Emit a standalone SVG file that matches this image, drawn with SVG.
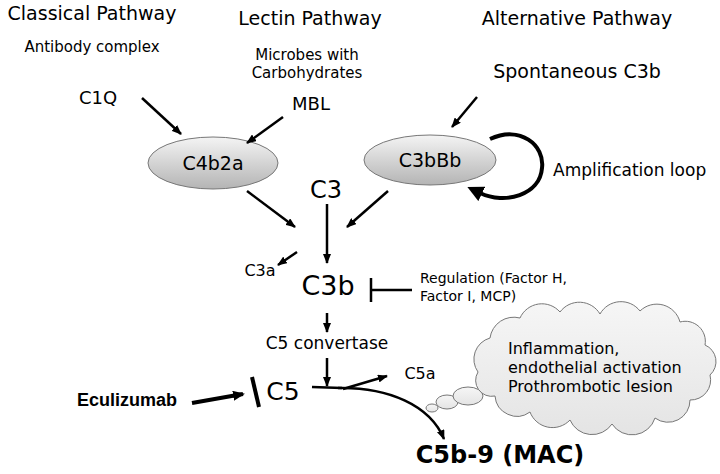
<svg xmlns="http://www.w3.org/2000/svg" width="720" height="474" viewBox="0 0 720 474">
<defs>
<linearGradient id="ell" x1="0" y1="0" x2="0" y2="1">
<stop offset="0" stop-color="#f4f4f4"/>
<stop offset="1" stop-color="#b4b4b4"/>
</linearGradient>
<linearGradient id="cloudg" x1="0" y1="0" x2="0" y2="1">
<stop offset="0" stop-color="#f6f6f6"/>
<stop offset="1" stop-color="#e4e4e4"/>
</linearGradient>
<marker id="ah" viewBox="0 0 10 8" refX="9" refY="4" markerWidth="10" markerHeight="8" markerUnits="userSpaceOnUse" orient="auto">
<path d="M0,0 L10,4 L0,8 Z" fill="#000"/>
</marker>
<marker id="ahBig" viewBox="0 0 16 16" refX="2" refY="8" markerWidth="16" markerHeight="16" markerUnits="userSpaceOnUse" orient="auto">
<path d="M0,0 L16,8 L0,16 Z" fill="#000"/>
</marker>
<marker id="ahThick" viewBox="0 0 12 10" refX="10" refY="5" markerWidth="12" markerHeight="10" markerUnits="userSpaceOnUse" orient="auto">
<path d="M0,0 L12,5 L0,10 Z" fill="#000"/>
</marker>
</defs>
<style>
.t{font-family:"Comic Sans MS","DejaVu Sans",sans-serif;fill:#000}
.m{text-anchor:middle}
.ln{stroke:#000;stroke-width:2.5;fill:none}
.arr{stroke:#000;stroke-width:2.5;fill:none;marker-end:url(#ah)}
.node{fill:url(#ell);stroke:#777;stroke-width:1}
.cl{fill:url(#cloudg);stroke:#777;stroke-width:1}
</style>

<g id="titles">
<text class="t m" x="92" y="20" font-size="19">Classical Pathway</text>
<text class="t m" x="310" y="25" font-size="19">Lectin Pathway</text>
<text class="t m" x="577" y="25" font-size="19">Alternative Pathway</text>
</g>

<g id="antibody"><text class="t m" x="92" y="52" font-size="15">Antibody complex</text></g>
<g id="microbes"><text class="t m" x="307" y="60" font-size="15">Microbes with</text><text class="t m" x="307" y="78" font-size="15">Carbohydrates</text></g>
<g id="c1q"><text class="t m" x="98" y="104" font-size="18">C1Q</text></g>
<g id="mbl"><text class="t m" x="311" y="110" font-size="18">MBL</text></g>
<g id="spont"><text class="t m" x="577" y="78" font-size="19">Spontaneous C3b</text></g>

<g id="c4b2a">
<ellipse class="node" cx="213" cy="163" rx="65" ry="26"/>
<text class="t m" x="213" y="170" font-size="19">C4b2a</text>
</g>
<g id="c3bbb">
<ellipse class="node" cx="430" cy="160" rx="66" ry="25"/>
<text class="t m" x="430" y="167" font-size="19">C3bBb</text>
</g>
<g id="amp"><text class="t" x="553" y="176" font-size="17">Amplification loop</text></g>
<g id="c3"><text class="t m" x="326" y="198" font-size="24">C3</text></g>
<g id="c3a"><text class="t m" x="260" y="276" font-size="16">C3a</text></g>
<g id="c3b"><text class="t m" x="328" y="295" font-size="27">C3b</text></g>
<g id="regulation">
<text class="t" x="420" y="283" font-size="14">Regulation (Factor H,</text>
<text class="t" x="420" y="301" font-size="14">Factor I, MCP)</text>
</g>
<g id="c5conv"><text class="t m" x="327" y="349" font-size="17">C5 convertase</text></g>
<g id="c5a"><text class="t m" x="420" y="379" font-size="16">C5a</text></g>
<g id="c5"><text class="t m" x="283" y="400" font-size="25">C5</text></g>
<g id="eculizumab"><text x="77" y="406" font-size="18" font-weight="bold" font-family="'Liberation Sans',Arial,sans-serif">Eculizumab</text></g>
<g id="mac"><text class="t m" x="500" y="463" font-size="24" font-weight="bold">C5b-9 (MAC)</text></g>

<g id="cloud">
<ellipse class="cl" cx="432" cy="408" rx="6" ry="4"/>
<ellipse class="cl" cx="447" cy="402" rx="11" ry="7"/>
<ellipse class="cl" cx="468" cy="396" rx="15" ry="9"/>
<path class="cl" d="M478,372 A22 22 0 0 1 490,338 A24 24 0 0 1 520,318 A24 24 0 0 1 560,312 A24 24 0 0 1 600,314 A24 24 0 0 1 640,311 A24 24 0 0 1 680,322 A20 20 0 0 1 705,345 A18 18 0 0 1 710,375 A20 20 0 0 1 690,400 A22 22 0 0 1 655,418 A24 24 0 0 1 612,424 A24 24 0 0 1 570,420 A24 24 0 0 1 530,412 A22 22 0 0 1 495,396 A16 16 0 0 1 478,372 Z"/>
<text class="t" x="508" y="354" font-size="16">Inflammation,</text>
<text class="t" x="508" y="373" font-size="16">endothelial activation</text>
<text class="t" x="508" y="392" font-size="16">Prothrombotic lesion</text>
</g>

<g id="connectors">
<line class="arr" x1="142" y1="98" x2="181" y2="134"/>
<line class="arr" x1="283" y1="117" x2="247" y2="143"/>
<line class="arr" x1="477" y1="97" x2="452" y2="127"/>
<line class="arr" x1="247" y1="191" x2="295" y2="227"/>
<line class="arr" x1="388" y1="191" x2="347" y2="227"/>
<line class="arr" x1="327" y1="204" x2="327" y2="263"/>
<line class="arr" x1="297" y1="252" x2="278" y2="265"/>
<line class="ln" x1="371" y1="278" x2="371" y2="302"/>
<line class="ln" x1="371" y1="290" x2="412" y2="290"/>
<line class="arr" x1="327" y1="313" x2="327" y2="332"/>
<line class="arr" x1="327" y1="358" x2="327" y2="386"/>
<path class="ln" d="M312,387 L342,388"/>
<path class="arr" d="M338,388 C388,387 430,405 444,439"/>
<line class="arr" x1="343" y1="389" x2="387" y2="376"/>
<path d="M490,139 C520,125 545,145 542,168 C540,195 505,205 480,193" fill="none" stroke="#000" stroke-width="4" marker-end="url(#ahBig)"/>
<line x1="192" y1="403" x2="243" y2="394" stroke="#000" stroke-width="4" marker-end="url(#ahThick)"/>
<line x1="252" y1="377" x2="259" y2="407" stroke="#000" stroke-width="4"/>
</g>
</svg>
